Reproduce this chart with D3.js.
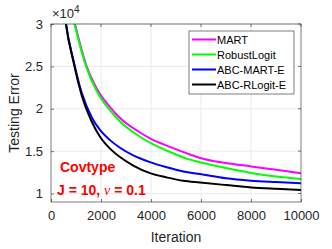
<!DOCTYPE html>
<html>
<head>
<meta charset="utf-8">
<script src="https://cdn.jsdelivr.net/npm/d3@7"></script>
<style>
body { margin: 0; background: #fff; }
svg { font-family: "Liberation Sans", Arial, sans-serif; }
</style>
</head>
<body>
<svg id="chart" width="332" height="249"></svg>
<script>
const xTicks = [0, 2000, 4000, 6000, 8000, 10000];
const yTicks = [1, 1.5, 2, 2.5, 3];
const yTickLabels = ["1", "1.5", "2", "2.5", "3"];
const seriesNames = ["MART", "RobustLogit", "ABC-MART-E", "ABC-RLogit-E"];
const seriesColors = ["#ff00ff", "#00ff00", "#0000ff", "#000000"];

const martIter = [800, 960, 1427, 1827, 2360, 2760, 3560, 3960, 4760, 5560, 5960, 7000, 8000, 9000, 10000];
const martVal = [3.2, 3.0, 2.5, 2.24, 2.02, 1.89, 1.72, 1.65, 1.55, 1.46, 1.42, 1.36, 1.32, 1.28, 1.238];
const robustIter = [800, 940, 1427, 1827, 2360, 2760, 3560, 3960, 4760, 5560, 5960, 7000, 8000, 9000, 10000];
const robustVal = [3.18, 3.0, 2.48, 2.21, 1.98, 1.85, 1.67, 1.60, 1.49, 1.40, 1.37, 1.30, 1.243, 1.20, 1.172];
const abcMartIter = [500, 600, 893, 1227, 1627, 1960, 2360, 2760, 3290, 3960, 4630, 5290, 5960, 7000, 8000, 9000, 10000];
const abcMartVal = [3.25, 3.0, 2.58, 2.19, 1.9, 1.75, 1.63, 1.54, 1.45, 1.37, 1.31, 1.26, 1.23, 1.18, 1.152, 1.135, 1.12];
const abcRlogitIter = [500, 600, 893, 1227, 1627, 1960, 2360, 2760, 3290, 3960, 4630, 5290, 5960, 7000, 8000, 9000, 10000];
const abcRlogitVal = [3.25, 3.0, 2.56, 2.16, 1.85, 1.67, 1.53, 1.43, 1.33, 1.24, 1.19, 1.15, 1.13, 1.10, 1.072, 1.055, 1.041];

const series = [
    {name: seriesNames[0], color: seriesColors[0], iter: martIter, val: martVal},
    {name: seriesNames[1], color: seriesColors[1], iter: robustIter, val: robustVal},
    {name: seriesNames[2], color: seriesColors[2], iter: abcMartIter, val: abcMartVal},
    {name: seriesNames[3], color: seriesColors[3], iter: abcRlogitIter, val: abcRlogitVal}
];

const margin = {top: 24, right: 31, bottom: 47, left: 51};
const W = 332, H = 249;
const width = W - margin.left - margin.right;
const height = H - margin.top - margin.bottom;
const axisColor = "#262626";

const svg = d3.select("#chart");
const g = svg.append("g").attr("transform", `translate(${margin.left},${margin.top})`);

const x = d3.scaleLinear().domain([0, 10000]).range([0, width]);
const y = d3.scaleLinear().domain([0.9, 3]).range([height, 0]);

// grid
g.append("g").selectAll("line").data(xTicks.slice(1, -1)).enter().append("line")
    .attr("x1", d => x(d)).attr("x2", d => x(d)).attr("y1", 0).attr("y2", height)
    .attr("stroke", "#e6e6e6").attr("stroke-width", 0.8);
g.append("g").selectAll("line").data(yTicks).enter().append("line")
    .attr("x1", 0).attr("x2", width).attr("y1", d => y(d)).attr("y2", d => y(d))
    .attr("stroke", "#e6e6e6").attr("stroke-width", 0.8);

g.append("defs").append("clipPath").attr("id", "clip")
    .append("rect").attr("width", width).attr("height", height);

const line = d3.line().curve(d3.curveMonotoneX).x(d => x(d[0])).y(d => y(d[1]));
g.append("g").attr("clip-path", "url(#clip)").selectAll("path").data(series).enter().append("path")
    .attr("d", s => line(s.iter.map((it, i) => [it, s.val[i]])))
    .attr("fill", "none").attr("stroke", s => s.color).attr("stroke-width", 2);

// axes, MATLAB style: inward ticks, full box
const xAxis = d3.axisBottom(x).tickValues(xTicks).tickFormat(d3.format("d")).tickSize(-3).tickPadding(9);
const yAxis = d3.axisLeft(y).tickValues(yTicks).tickFormat((d, i) => yTickLabels[i]).tickSize(-3).tickPadding(8);
const gx = g.append("g").attr("transform", `translate(0,${height})`).call(xAxis);
const gy = g.append("g").call(yAxis);
[gx, gy].forEach(a => {
    a.select(".domain").remove();
    a.selectAll(".tick line").attr("stroke", axisColor).attr("stroke-width", 0.6);
    a.selectAll(".tick text").attr("fill", axisColor).attr("font-size", 13);
});
g.append("g").selectAll("line").data(xTicks).enter().append("line")
    .attr("x1", d => x(d)).attr("x2", d => x(d)).attr("y1", 0).attr("y2", 3)
    .attr("stroke", axisColor).attr("stroke-width", 0.6);
g.append("g").selectAll("line").data(yTicks).enter().append("line")
    .attr("x1", width - 3).attr("x2", width).attr("y1", d => y(d)).attr("y2", d => y(d))
    .attr("stroke", axisColor).attr("stroke-width", 0.6);
g.append("rect").attr("width", width).attr("height", height)
    .attr("fill", "none").attr("stroke", axisColor).attr("stroke-width", 0.6);

// exponent
const ex = g.append("text").attr("x", 1).attr("y", -6).attr("fill", axisColor).attr("font-size", 13);
ex.append("tspan").text("\u00d710");
ex.append("tspan").attr("dy", -5).attr("font-size", 10).text("4");

// labels
svg.append("text").attr("x", margin.left + width / 2).attr("y", 242)
    .attr("text-anchor", "middle").attr("fill", axisColor).attr("font-size", 14).text("Iteration");
svg.append("text").attr("transform", `translate(19,${margin.top + height / 2}) rotate(-90)`)
    .attr("text-anchor", "middle").attr("fill", axisColor).attr("font-size", 14).text("Testing Error");

// annotation
svg.append("text").attr("x", 60).attr("y", 172).attr("fill", "#ff0000")
    .attr("font-size", 14).attr("font-weight", "bold").text("Covtype");
const ann = svg.append("text").attr("x", 57).attr("y", 195).attr("fill", "#ff0000")
    .attr("font-size", 14).attr("font-weight", "bold");
ann.append("tspan").text("J = 10, ");
ann.append("tspan").attr("font-family", "Liberation Serif, serif").attr("font-style", "italic").attr("font-weight", "normal").text("\u03bd");
ann.append("tspan").text(" = 0.1");

// legend
const lg = svg.append("g").attr("transform", "translate(189,31)");
lg.append("rect").attr("width", 105).attr("height", 63)
    .attr("fill", "#fff").attr("stroke", axisColor).attr("stroke-width", 0.6);
const items = lg.selectAll("g").data(series).enter().append("g")
    .attr("transform", (d, i) => `translate(0,${8.5 + i * 15})`);
items.append("line").attr("x1", 3).attr("x2", 27).attr("stroke", d => d.color).attr("stroke-width", 2);
items.append("text").attr("x", 28).attr("y", 4).attr("font-size", 11).attr("fill", "#000").text(d => d.name);
</script>
</body>
</html>
